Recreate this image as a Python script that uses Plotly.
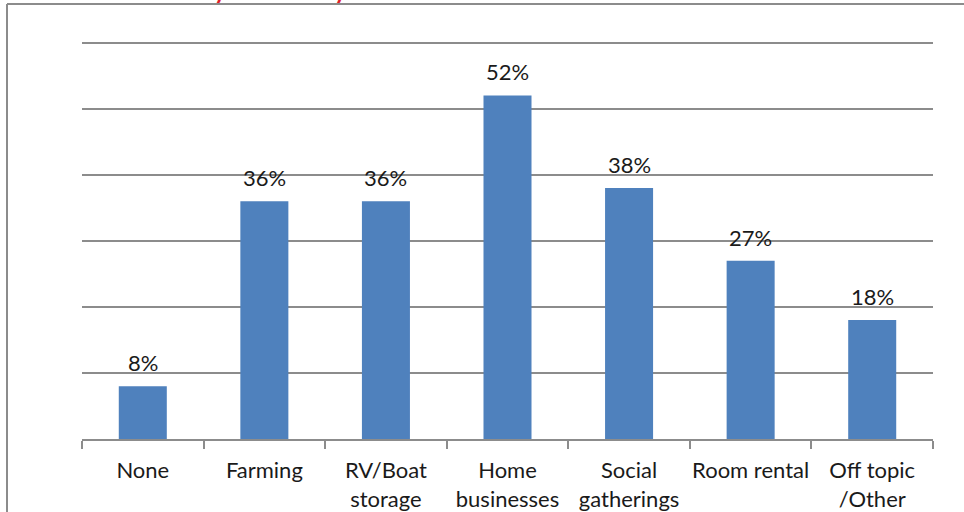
import plotly.graph_objects as go

# Share of respondents naming each activity
categories = ["None", "Farming", "RV/Boat<br>storage", "Home<br>businesses",
              "Social<br>gatherings", "Room rental", "Off topic<br>/Other"]
shares = [8, 36, 36, 52, 38, 27, 18]
labels = [f"{v}%" for v in shares]
grid_values = [10, 20, 30, 40, 50, 60]

BAR = "#4f81bd"
GRID = "#8c8c8c"
INK = "#1a1a1a"
FONT = "Lato, Carlito, 'Open Sans', sans-serif"

# page geometry (px)
W, H = 964, 512
L, R, T, B = 82, 31, 40, 73
pw, ph = W - L - R, H - T - B


def px_x(x):
    return (x - L) / pw


def px_y(y):
    return (H - B - y) / ph


fig = go.Figure(go.Bar(
    x=categories, y=shares,
    marker=dict(color=BAR, line=dict(width=0)),
    width=0.395,
    hoverinfo="x+y",
))

# value labels above each bar
annotations = [
    dict(x=c, y=v, text=t, xref="x", yref="y", showarrow=False,
         yanchor="bottom", yshift=8,
         font=dict(family=FONT, size=22, color=INK))
    for c, v, t in zip(categories, shares, labels)
]
# header text running off the top of the page
annotations.append(
    dict(text="<b>Activity allowed by use</b>", xref="paper", yref="paper",
         x=px_x(140), y=px_y(6), xanchor="left", yanchor="bottom",
         showarrow=False, font=dict(family=FONT, size=24, color="#e0202a"))
)

fig.update_layout(
    width=W, height=H,
    margin=dict(l=L, r=R, t=T, b=B, autoexpand=False),
    paper_bgcolor="white", plot_bgcolor="white",
    showlegend=False,
    font=dict(family=FONT, size=22, color=INK),
    xaxis=dict(
        showline=True, linecolor=GRID, linewidth=2,
        ticks="outside", tickson="boundaries", ticklen=8,
        tickcolor=GRID, tickwidth=2,
        tickfont=dict(family=FONT, size=22, color=INK),
        tickangle=0, automargin=False,
        ticklabelstandoff=11,
        showgrid=False,
    ),
    yaxis=dict(
        range=[0, 60.4], tickvals=grid_values,
        showticklabels=False, automargin=False,
        showgrid=True, gridcolor=GRID, gridwidth=2,
        zeroline=False, showline=False, ticks="",
    ),
    shapes=[
        dict(type="line", xref="paper", yref="paper",
             x0=px_x(7), x1=px_x(7), y0=px_y(4), y1=px_y(H + 5),
             line=dict(color=GRID, width=2)),
        dict(type="line", xref="paper", yref="paper",
             x0=px_x(7), x1=px_x(W + 5), y0=px_y(4), y1=px_y(4),
             line=dict(color=GRID, width=2)),
    ],
    annotations=annotations,
)

fig.write_html("out.html")
